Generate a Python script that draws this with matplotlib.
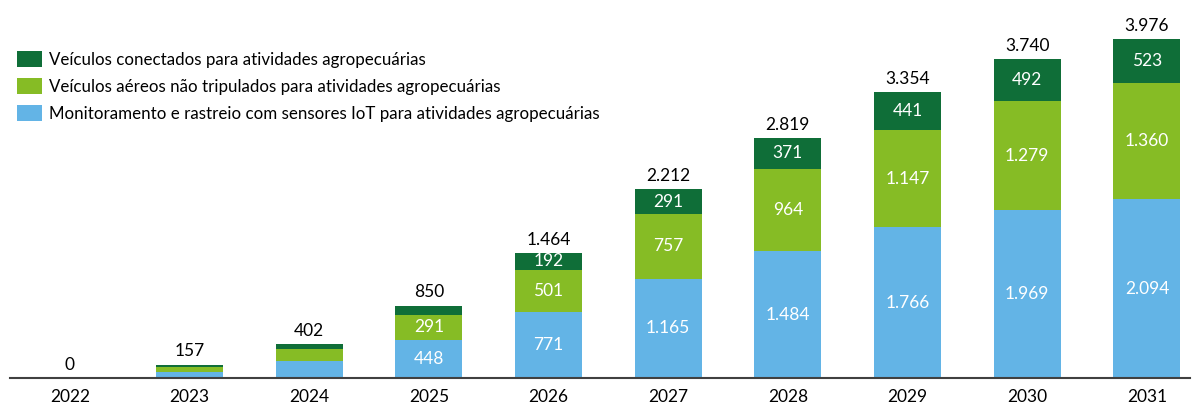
import matplotlib.pyplot as plt
import numpy as np

plt.rcParams['font.family'] = ['Lato', 'DejaVu Sans']

years = ['2022', '2023', '2024', '2025', '2026', '2027', '2028', '2029', '2030', '2031']
iot = [0, 74, 200, 448, 771, 1165, 1484, 1766, 1969, 2094]
drones = [0, 52, 137, 291, 501, 757, 964, 1147, 1279, 1360]
connected = [0, 31, 65, 111, 192, 291, 371, 441, 492, 523]
totals = [0, 157, 402, 850, 1464, 2212, 2819, 3354, 3740, 3976]
# which segment values are printed inside the bars
show_iot = [0, 0, 0, 1, 1, 1, 1, 1, 1, 1]
show_drones = [0, 0, 0, 1, 1, 1, 1, 1, 1, 1]
show_conn = [0, 0, 0, 0, 1, 1, 1, 1, 1, 1]

names = ['Veículos conectados para atividades agropecuárias',
         'Veículos aéreos não tripulados para atividades agropecuárias',
         'Monitoramento e rastreio com sensores IoT para atividades agropecuárias']
c_conn, c_drone, c_iot = '#0f6e38', '#86bc25', '#63b4e6'


def fmt(v):
    return f'{v:,}'.replace(',', '.')


fig = plt.figure(figsize=(11.95, 4.04), dpi=100)
ax = fig.add_axes([10 / 1195, 26 / 404, 1180 / 1195, 378 / 404])

x = np.arange(len(years))
w = 0.56
b1 = ax.bar(x, iot, w, color=c_iot, label=names[2])
b2 = ax.bar(x, drones, w, bottom=iot, color=c_drone, label=names[1])
bot3 = np.array(iot) + np.array(drones)
b3 = ax.bar(x, connected, w, bottom=bot3, color=c_conn, label=names[0])

for i in range(len(x)):
    if show_iot[i]:
        ax.text(x[i], iot[i] / 2, fmt(iot[i]), ha='center', va='center',
                color='white', fontsize=12.5)
    if show_drones[i]:
        ax.text(x[i], iot[i] + drones[i] / 2, fmt(drones[i]), ha='center',
                va='center', color='white', fontsize=12.5)
    if show_conn[i]:
        ax.text(x[i], bot3[i] + connected[i] / 2, fmt(connected[i]),
                ha='center', va='center', color='white', fontsize=12.5)
    ax.text(x[i], totals[i] + 60, fmt(totals[i]), ha='center', va='bottom',
            color='black', fontsize=12.5)

ax.set_xlim(-0.5, 9.36)
ax.set_ylim(0, 4433)
ax.set_xticks(x)
ax.set_xticklabels(years, fontsize=12.5)
ax.tick_params(axis='x', length=0, pad=8)
ax.set_yticks([])
for s in ['top', 'left', 'right']:
    ax.spines[s].set_visible(False)
ax.spines['bottom'].set_color('#404040')
ax.spines['bottom'].set_linewidth(1.5)

ax.legend(handles=[b3, b2, b1], labels=names, loc='upper left',
          bbox_to_anchor=(0.0, 0.883), frameon=False, fontsize=12.2,
          handlelength=1.48, handleheight=1.12, handletextpad=0.41,
          labelspacing=0.59, borderaxespad=0.0)

fig.savefig('out.png', dpi=100)
